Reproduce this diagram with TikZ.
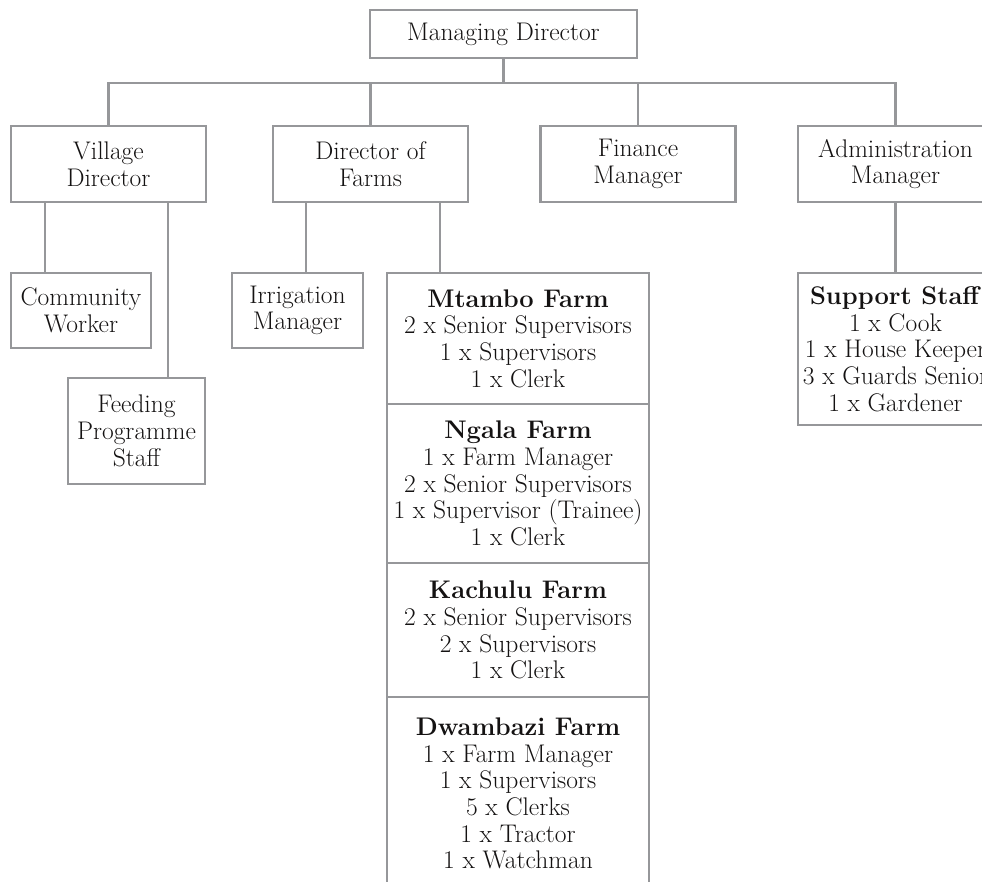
\documentclass[tikz,border=0pt]{standalone}
\usepackage{fontspec}
\usetikzlibrary{calc,positioning}
\definecolor{linegray}{RGB}{150,151,154}
\definecolor{ink}{RGB}{20,18,18}
\begin{document}
\begin{tikzpicture}[x=1pt,y=-1pt]
\tikzset{post/.style={draw=linegray,line width=2.8pt,text=ink,align=center,
                      inner sep=0pt,outer sep=0pt,font=\fontsize{25.5}{26.7}\selectfont},
         size/.style 2 args={minimum width=#1pt,minimum height=#2pt},
         link/.style={draw=linegray,line width=2.8pt}}
\useasboundingbox (0,0) rectangle (982,881);

% top of the chart
\node[post,size={267}{48}] (md) at (503.5,34) {Managing Director};

% the four directors and managers
\node[post,size={195}{76}] (vd)  at (108.5,164) {Village\\Director};
\node[post,size={195}{76}] (dof) at (370.5,164) {Director of\\Farms};
\node[post,size={195}{76}] (fm)  at (638,164)   {Finance\\Manager};
\node[post,size={195}{76}] (am)  at (895.5,164) {Administration\\Manager};

% staff under the village director and the director of farms
\node[post,size={140}{75}]  (cw)  at (81,310.5)   {Community\\Worker};
\node[post,size={137}{106}] (fps) at (136.5,431)  {Feeding\\Programme\\Staff};
\node[post,size={131}{75}]  (irr) at (297.5,310.5) {Irrigation\\Manager};

% the farms, stacked one under the other
\node[post,size={262}{131}] (mtambo) at (518,338.5)
    {\textbf{Mtambo Farm}\\2 x Senior Supervisors\\1 x Supervisors\\1 x Clerk};
\node[post,size={262}{159},below=0pt of mtambo] (ngala)
    {\textbf{Ngala Farm}\\1 x Farm Manager\\2 x Senior Supervisors\\1 x Supervisor (Trainee)\\1 x Clerk};
\node[post,size={262}{134},below=0pt of ngala] (kachulu)
    {\textbf{Kachulu Farm}\\2 x Senior Supervisors\\2 x Supervisors\\1 x Clerk};
\node[post,size={262}{193},below=0pt of kachulu] (dwambazi)
    {\textbf{Dwambazi Farm}\\1 x Farm Manager\\1 x Supervisors\\5 x Clerks\\1 x Tractor\\1 x Watchman};

% support staff under administration
\node[post,size={195}{152}] (support) at (895.5,349)
    {\textbf{Support Staff}\\1 x Cook\\1 x House Keeper\\3 x Guards Senior\\1 x Gardener};

% connectors
\coordinate (bus) at ($(md.south)+(0,25)$);
\draw[link] (md.south) -- (bus);
\foreach \c in {vd,dof,fm,am} \draw[link] (bus) -| (\c.north);

% stems: parent / offset from its left edge / child
\foreach \p/\dx/\c in {vd/34/cw, vd/157/fps, dof/33/irr, dof/167/mtambo}
{
    \coordinate (stem) at ($(\p.south west)+(\dx,0)$);
    \draw[link] (stem) -- (stem |- \c.north);
}
\draw[link] (am.south) -- (support.north);
\end{tikzpicture}
\end{document}
